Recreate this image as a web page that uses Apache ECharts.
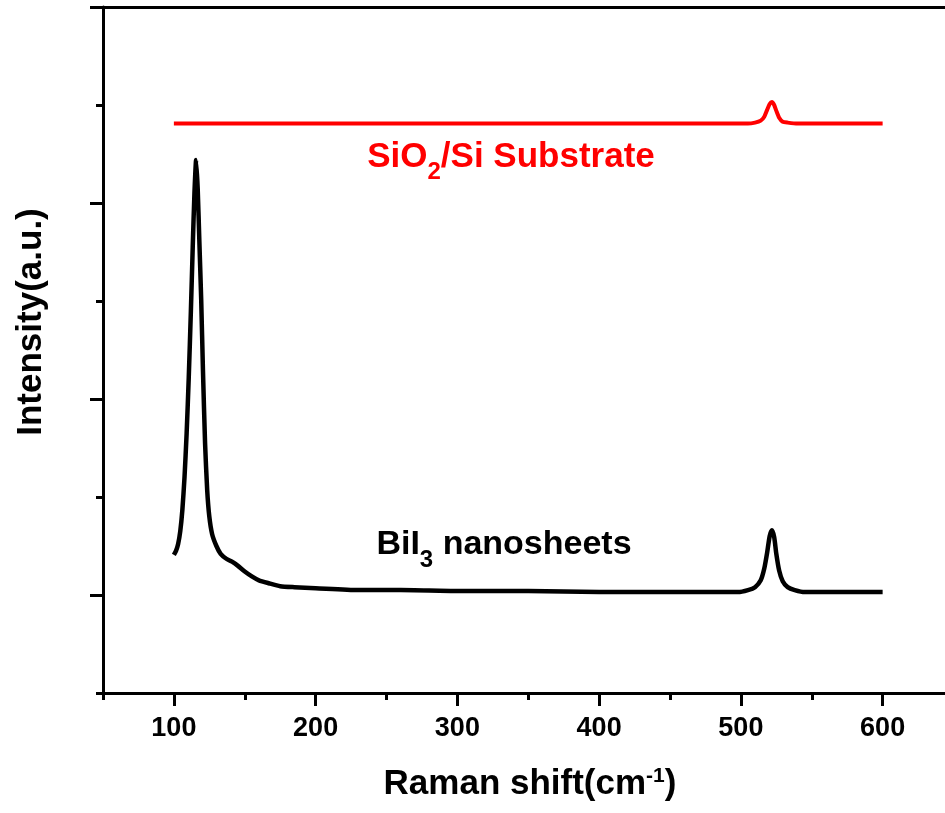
<!DOCTYPE html>
<html>
<head>
<meta charset="utf-8">
<script src="https://cdn.jsdelivr.net/npm/echarts@6/dist/echarts.min.js"></script>
<style>
  html, body { margin: 0; padding: 0; background: #fff; }
  #chart { width: 945px; height: 813px; }
</style>
</head>
<body>
<div id="chart"></div>
<script>
// BiI3 nanosheets spectrum (Raman shift, intensity a.u.)
var bilShift = [100, 101.5, 103, 104.5, 106, 107.5, 109, 110.5, 112, 113.3, 114.5, 115.7, 116.8, 118, 119.3, 120.5, 122, 123.5, 125, 127, 130, 133, 137, 141, 145, 150, 155, 160, 167, 175, 185, 200, 230, 260, 300, 350, 400, 450, 498, 505, 510, 514, 516.5, 518.5, 520.3, 521.9, 523.5, 525, 527, 529.5, 533, 538, 545, 560, 600];
var bilIntensity = [1.41, 1.45, 1.52, 1.65, 1.87, 2.20, 2.65, 3.22, 3.90, 4.55, 5.10, 5.44, 5.15, 4.60, 4.00, 3.30, 2.55, 2.07, 1.80, 1.62, 1.50, 1.42, 1.37, 1.34, 1.30, 1.24, 1.19, 1.15, 1.12, 1.09, 1.08, 1.07, 1.05, 1.05, 1.04, 1.04, 1.03, 1.03, 1.03, 1.05, 1.08, 1.15, 1.27, 1.43, 1.60, 1.66, 1.59, 1.42, 1.25, 1.14, 1.08, 1.05, 1.03, 1.03, 1.03];

// SiO2/Si substrate spectrum
var subShift = [100, 200, 300, 400, 505, 510, 514, 516.5, 518.5, 520.3, 521.9, 523.5, 525, 527, 529.5, 533, 540, 600];
var subIntensity = [5.81, 5.81, 5.81, 5.81, 5.81, 5.82, 5.84, 5.88, 5.95, 6.01, 6.03, 6.00, 5.94, 5.87, 5.83, 5.82, 5.81, 5.81];

var xMajor = [100, 200, 300, 400, 500, 600];
var xMinor = [50, 150, 250, 350, 450, 550];
var yMajor = [1, 3, 5, 7];
var yMinor = [0, 2, 4, 6];

var font = 'Arial, "Liberation Sans", sans-serif';

function pairs(xs, ys) {
    return xs.map(function (x, i) { return [x, ys[i]]; });
}

var myChart = echarts.init(document.getElementById('chart'));

var option = {
    backgroundColor: '#fff',
    animation: false,
    grid: { left: 103, right: 0, top: 7, bottom: 120 },
    xAxis: [
        {
            type: 'value', min: 50, max: 644, position: 'bottom',
            splitLine: { show: false },
            axisLine: { lineStyle: { color: '#000', width: 3 } },
            axisTick: { customValues: xMajor, length: 13, lineStyle: { color: '#000', width: 3 } },
            axisLabel: {
                customValues: xMajor, margin: 22, color: '#000',
                fontFamily: font, fontWeight: 'bold', fontSize: 27
            }
        },
        {
            type: 'value', min: 50, max: 644, position: 'bottom',
            splitLine: { show: false },
            axisLine: { show: false },
            axisTick: { customValues: xMinor, length: 7, lineStyle: { color: '#000', width: 3 } },
            axisLabel: { show: false }
        },
        {
            type: 'value', min: 50, max: 644, position: 'top',
            splitLine: { show: false },
            axisLine: { lineStyle: { color: '#000', width: 3 } },
            axisTick: { show: false },
            axisLabel: { show: false }
        }
    ],
    yAxis: [
        {
            type: 'value', min: 0, max: 7, position: 'left',
            splitLine: { show: false },
            axisLine: { lineStyle: { color: '#000', width: 3 } },
            axisTick: { customValues: yMajor, length: 13, lineStyle: { color: '#000', width: 3 } },
            axisLabel: { show: false }
        },
        {
            type: 'value', min: 0, max: 7, position: 'left',
            splitLine: { show: false },
            axisLine: { show: false },
            axisTick: { customValues: yMinor, length: 7, lineStyle: { color: '#000', width: 3 } },
            axisLabel: { show: false }
        }
    ],
    series: [
        {
            name: 'SiO2/Si Substrate',
            type: 'line',
            xAxisIndex: 0, yAxisIndex: 0,
            showSymbol: false,
            smooth: 0.2,
            lineStyle: { color: '#ff0000', width: 4, join: 'round' },
            data: pairs(subShift, subIntensity)
        },
        {
            name: 'BiI3 nanosheets',
            type: 'line',
            xAxisIndex: 0, yAxisIndex: 0,
            showSymbol: false,
            smooth: 0.2,
            lineStyle: { color: '#000', width: 4.5, join: 'round' },
            data: pairs(bilShift, bilIntensity)
        }
    ],
    graphic: [
        {
            type: 'text', x: 511, y: 140,
            style: {
                text: '{a|SiO}{s|2}{a|/Si Substrate}',
                align: 'center', verticalAlign: 'top',
                rich: {
                    a: { fontFamily: font, fontWeight: 'bold', fontSize: 35, lineHeight: 34, verticalAlign: 'top', fill: '#ff0000' },
                    s: { fontFamily: font, fontWeight: 'bold', fontSize: 24, lineHeight: 24, padding: [20, 0, 0, 0], verticalAlign: 'top', fill: '#ff0000' }
                }
            }
        },
        {
            type: 'text', x: 504, y: 528,
            style: {
                text: '{a|BiI}{s|3}{a| nanosheets}',
                align: 'center', verticalAlign: 'top',
                rich: {
                    a: { fontFamily: font, fontWeight: 'bold', fontSize: 34, lineHeight: 34, verticalAlign: 'top', fill: '#000' },
                    s: { fontFamily: font, fontWeight: 'bold', fontSize: 24, lineHeight: 24, padding: [20, 0, 0, 0], verticalAlign: 'top', fill: '#000' }
                }
            }
        },
        {
            type: 'text', x: 530, y: 766,
            style: {
                text: '{a|Raman shift(cm}{p|-1}{a|)}',
                align: 'center', verticalAlign: 'top',
                rich: {
                    a: { fontFamily: font, fontWeight: 'bold', fontSize: 35, lineHeight: 36, verticalAlign: 'bottom', fill: '#000' },
                    p: { fontFamily: font, fontWeight: 'bold', fontSize: 21, lineHeight: 20, verticalAlign: 'top', fill: '#000' }
                }
            }
        },
        {
            type: 'text', x: 31, y: 322, rotation: Math.PI / 2,
            style: {
                text: 'Intensity(a.u.)',
                align: 'center', verticalAlign: 'middle',
                fontFamily: font, fontWeight: 'bold', fontSize: 35, fill: '#000'
            }
        }
    ]
};

myChart.setOption(option);
</script>
</body>
</html>
